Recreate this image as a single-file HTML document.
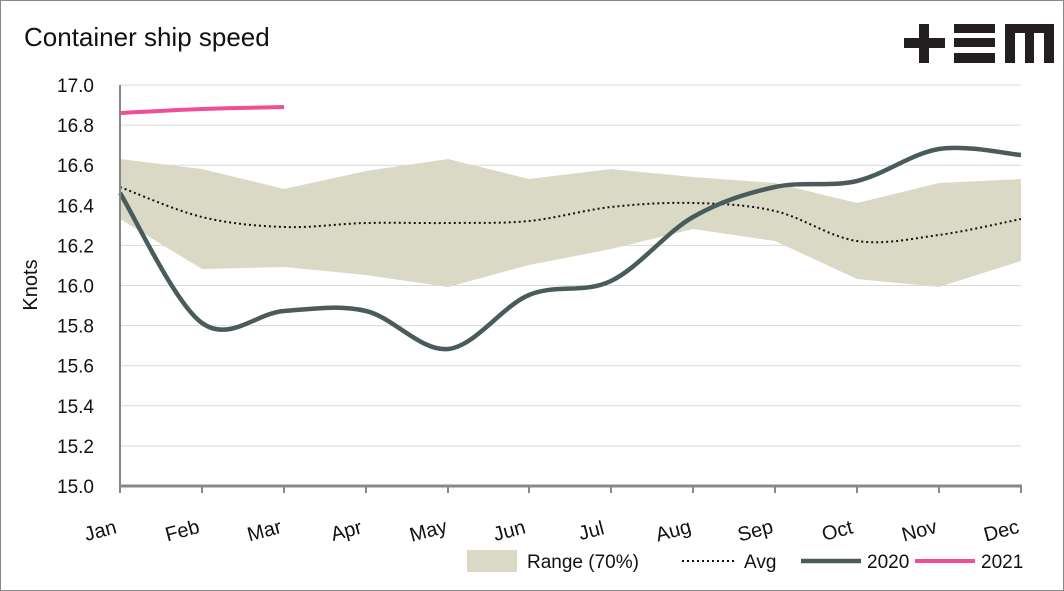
<!DOCTYPE html>
<html><head><meta charset="utf-8"><style>
html,body{margin:0;padding:0;background:#fff;}
svg{display:block;font-family:"Liberation Sans",Arial,sans-serif;}
</style></head><body>
<svg id="s" width="1064" height="591" viewBox="0 0 1064 591" xmlns="http://www.w3.org/2000/svg">
<rect x="0.5" y="0.5" width="1063" height="590" fill="#fff" stroke="#888" stroke-width="1"/>
<text x="24" y="46" font-size="26" fill="#111">Container ship speed</text>
<g fill="#231f20">
<rect x="904" y="38" width="41" height="10"/><rect x="919" y="24" width="10" height="39"/>
<rect x="954" y="24" width="41" height="9"/><rect x="954" y="38" width="41" height="9"/><rect x="954" y="53" width="41" height="10"/>
<path d="M1005 24H1054V63H1044V33H1034V63H1025V33H1015V63H1005Z"/>
</g>
<g id="grid" stroke="#d9d9d9" stroke-width="1"></g>
<g id="ylab" font-size="19" fill="#111" text-anchor="end"></g>
<text transform="translate(37,285) rotate(-90)" font-size="20" fill="#111" text-anchor="middle">Knots</text>
<path id="range" fill="#d9d9c6"/>
<path id="avg" fill="none" stroke="#111" stroke-width="2" stroke-dasharray="2,3"/>
<path id="l20" fill="none" stroke="#4a5b5b" stroke-width="4.5"/>
<path id="l21" fill="none" stroke="#f04e98" stroke-width="4"/>
<line x1="120" y1="85" x2="120" y2="486" stroke="#888" stroke-width="2"/>
<line x1="119" y1="486" x2="1022" y2="486" stroke="#888" stroke-width="3"/>
<g id="xt" stroke="#888" stroke-width="2"></g>
<g id="xlab" font-size="20" fill="#111" text-anchor="middle"></g>
<g font-size="19" fill="#111">
<rect x="467" y="550" width="50" height="22" fill="#d9d9c6"/><text x="527" y="568">Range (70%)</text>
<line x1="682" y1="561" x2="736" y2="561" stroke="#111" stroke-width="2" stroke-dasharray="2,3"/><text x="744" y="568">Avg</text>
<line x1="801" y1="561" x2="861" y2="561" stroke="#4a5b5b" stroke-width="4.5"/><text x="867" y="568">2020</text>
<line x1="915" y1="561" x2="975" y2="561" stroke="#f04e98" stroke-width="4"/><text x="981" y="568">2021</text>
</g>
</svg>
<script>
var X=[120,202,284,366,448,529,611,693,775,857,939,1021];
function cr(p){var d="M"+p[0][0]+" "+p[0][1];for(var i=0;i<p.length-1;i++){var a=p[i-1]||p[i],b=p[i],c=p[i+1],e=p[i+2]||c;
d+=" C"+(b[0]+(c[0]-a[0])/6)+" "+(b[1]+(c[1]-a[1])/6)+" "+(c[0]-(e[0]-b[0])/6)+" "+(c[1]-(e[1]-b[1])/6)+" "+c[0]+" "+c[1];}return d;}
function pts(Y){return Y.map(function(y,i){return [X[i],y];});}
var up=[159,169,189,171,159,179,169,177,183,203,183,179],lo=[219,269,267,275,287,265,249,229,241,279,287,261];
var d="M"+X[0]+" "+up[0];for(var i=1;i<12;i++)d+=" L"+X[i]+" "+up[i];for(i=11;i>=0;i--)d+=" L"+X[i]+" "+lo[i];
document.getElementById("range").setAttribute("d",d+"Z");
document.getElementById("avg").setAttribute("d",cr(pts([187,217,227,223,223,221,207,203,211,241,235,219])));
document.getElementById("l20").setAttribute("d",cr(pts([193,323,311,311,349,295,281,217,187,181,149,155])));
document.getElementById("l21").setAttribute("d",cr(pts([113,109,107])));
var g=document.getElementById("grid"),yl=document.getElementById("ylab"),ns="http://www.w3.org/2000/svg";
for(var k=0;k<=10;k++){var y=85+k*40.1;var l=document.createElementNS(ns,"line");l.setAttribute("x1",120);l.setAttribute("x2",1021);l.setAttribute("y1",y);l.setAttribute("y2",y);g.appendChild(l);
var t=document.createElementNS(ns,"text");t.setAttribute("x",94);t.setAttribute("y",y+7);t.textContent=(17-k*0.2).toFixed(1);yl.appendChild(t);}
var M=["Jan","Feb","Mar","Apr","May","Jun","Jul","Aug","Sep","Oct","Nov","Dec"],xt=document.getElementById("xt"),xl=document.getElementById("xlab");
for(i=0;i<12;i++){var l=document.createElementNS(ns,"line");l.setAttribute("x1",X[i]);l.setAttribute("x2",X[i]);l.setAttribute("y1",486);l.setAttribute("y2",493);xt.appendChild(l);
var t=document.createElementNS(ns,"text");t.setAttribute("transform","translate("+(X[i]-18)+",537) rotate(-15)");t.textContent=M[i];xl.appendChild(t);}
</script>
</body></html>
